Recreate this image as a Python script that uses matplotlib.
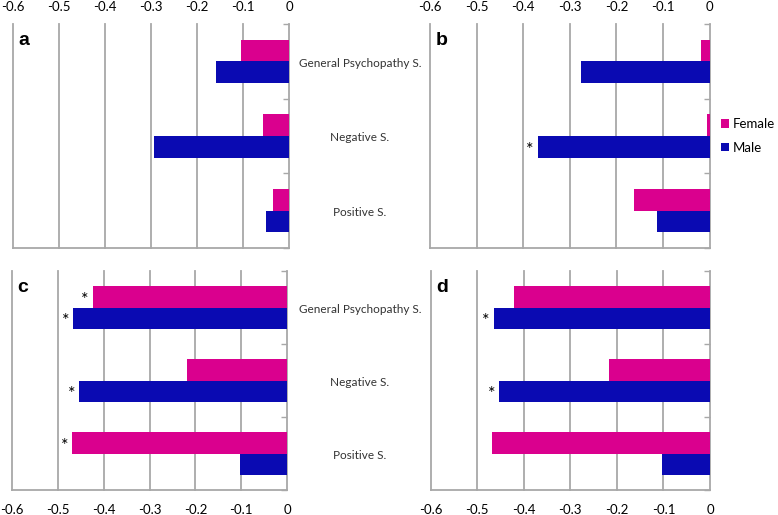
import numpy as np
import matplotlib
matplotlib.use('Agg')
import matplotlib.pyplot as plt

# scales, top to bottom
categories = ['General Psychopathy S.', 'Negative S.', 'Positive S.']
ticks = [-0.6, -0.5, -0.4, -0.3, -0.2, -0.1, 0]
tick_labels = ['-0.6', '-0.5', '-0.4', '-0.3', '-0.2', '-0.1', '0']

female_a = [-0.105, -0.056, -0.034]
male_a = [-0.159, -0.293, -0.050]
female_b = [-0.018, -0.006, -0.163]
male_b = [-0.276, -0.369, -0.112]
female_c = [-0.424, -0.219, -0.469]
male_c = [-0.467, -0.453, -0.103]
female_d = [-0.422, -0.218, -0.468]
male_d = [-0.465, -0.453, -0.103]

# significance marks (True = asterisk)
star_female_a = [False, False, False]
star_male_a = [False, False, False]
star_female_b = [False, False, False]
star_male_b = [False, True, False]
star_female_c = [True, False, True]
star_male_c = [True, True, False]
star_female_d = [False, False, False]
star_male_d = [True, True, False]

PINK = '#DA008E'
BLUE = '#0A0AB2'
GRID = '#A8A8A8'

plt.rcParams['font.family'] = ['Lato', 'DejaVu Sans']

fig = plt.figure(figsize=(7.78, 5.15), dpi=100)
W, H = 778, 515


def box(l, t, r, b):
    return [l / W, 1 - b / H, (r - l) / W, (b - t) / H]


panels = [
    ('a', box(12.5, 24, 289, 248), female_a, male_a, star_female_a, star_male_a, True),
    ('b', box(430, 24, 709.5, 248), female_b, male_b, star_female_b, star_male_b, True),
    ('c', box(11.7, 271, 287.3, 490), female_c, male_c, star_female_c, star_male_c, False),
    ('d', box(430.7, 271, 710, 490), female_d, male_d, star_female_d, star_male_d, False),
]

y = np.arange(len(categories))
h = 0.29

for letter, pos, fem, mal, sf, sm, top in panels:
    ax = fig.add_axes(pos)
    ax.barh(y - h / 2, fem, height=h, color=PINK, zorder=3, label='Female')
    ax.barh(y + h / 2, mal, height=h, color=BLUE, zorder=3, label='Male')
    for i in range(len(categories)):
        if sf[i]:
            ax.text(fem[i] - 0.008, y[i] - h / 2 + 0.04, '*', ha='right', va='center',
                    fontsize=13, zorder=4)
        if sm[i]:
            ax.text(mal[i] - 0.008, y[i] + h / 2 + 0.04, '*', ha='right', va='center',
                    fontsize=13, zorder=4)
    ax.set_xlim(-0.6, 0)
    ax.set_ylim(2.5, -0.5)
    ax.set_xticks(ticks)
    ax.set_xticklabels(tick_labels, fontsize=9.5)
    for xv in ticks:
        ax.axvline(xv, color=GRID, lw=1.3, zorder=1, clip_on=False)
    for s in ['top', 'left', 'right']:
        ax.spines[s].set_visible(False)
    ax.spines['bottom'].set_color(GRID)
    ax.spines['bottom'].set_linewidth(1.3)
    if top:
        ax.xaxis.tick_top()
        ax.tick_params(axis='x', length=0, pad=8)
    else:
        ax.tick_params(axis='x', length=0, pad=10)
    ax.set_yticks([-0.5, 0.5, 1.5, 2.5])
    ax.set_yticklabels([])
    ax.yaxis.tick_right()
    ax.tick_params(axis='y', direction='in', length=4, color=GRID, width=1)
    ax.text(0.02, 0.965, letter, transform=ax.transAxes, ha='left', va='top',
            fontsize=14, fontweight='bold', family='Liberation Sans')
    ax.set_facecolor('none')
    if letter == 'b':
        ax.legend(loc='center left', bbox_to_anchor=(1.0, 0.5), frameon=False,
                  fontsize=9.5, handlelength=0.6, handleheight=0.6,
                  handletextpad=0.3, labelspacing=0.9)

# category labels between the panel columns
row_tops = [24, 271]
row_bottoms = [248, 490]
for t, b in zip(row_tops, row_bottoms):
    band = (b - t) / 3
    for i, name in enumerate(categories):
        yc = t + band * (i + 0.5) + 2
        fig.text(360 / W, 1 - yc / H, name, ha='center', va='center', fontsize=8.5,
                 color='#333333')

fig.savefig('out.png', dpi=100)
